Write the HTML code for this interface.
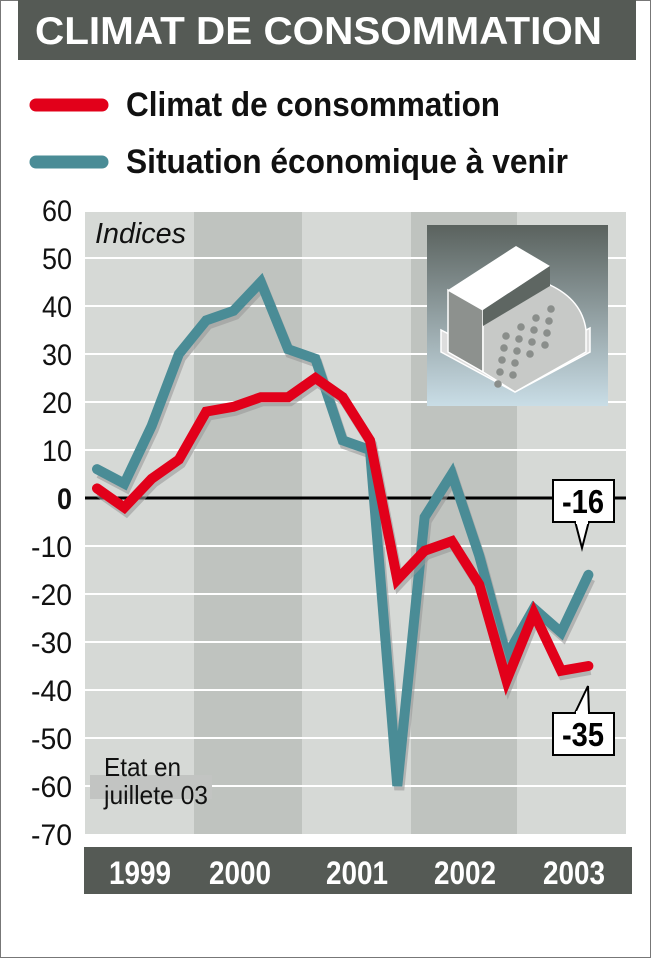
<!DOCTYPE html>
<html><head><meta charset="utf-8"><style>
body{margin:0;width:651px;height:958px;overflow:hidden;background:#fff;font-family:"Liberation Sans",sans-serif}
</style></head><body>
<svg width="651" height="958" viewBox="0 0 651 958">
<defs>
<linearGradient id="reg" x1="0" y1="0" x2="0" y2="1"><stop offset="0" stop-color="#5a625e"/><stop offset="1" stop-color="#c9dde6"/></linearGradient>
</defs>
<rect x="0.5" y="0.5" width="650" height="957" fill="#fff" stroke="#777"/>
<rect x="18" y="0" width="618" height="60" fill="#555a55"/>
<text x="35" y="44" textLength="567" lengthAdjust="spacingAndGlyphs" font-weight="bold" font-size="39" fill="#fff">CLIMAT DE CONSOMMATION</text>
<line x1="36" y1="105" x2="102" y2="105" stroke="#e2001a" stroke-width="13" stroke-linecap="round"/>
<text x="126" y="116" textLength="374" lengthAdjust="spacingAndGlyphs" font-weight="bold" font-size="34" fill="#111">Climat de consommation</text>
<line x1="36" y1="162" x2="102" y2="162" stroke="#4a8c96" stroke-width="13" stroke-linecap="round"/>
<text x="126" y="173" textLength="442" lengthAdjust="spacingAndGlyphs" font-weight="bold" font-size="34" fill="#111">Situation économique à venir</text>
<g id="plot"></g>
<rect x="84" y="847" width="548" height="47" fill="#555a55"/>
<g id="years"></g>
</svg>
<script>
const years=["1999","2000","2001","2002","2003"];
const bandEdges=[85,194,302,411,517,626];
const yearLabelX=[140,240,357,465,574];
const yTicks=[60,50,40,30,20,10,0,-10,-20,-30,-40,-50,-60,-70];
const climat=[2,-2,4,8,18,19,21,21,25,21,12,-17,-11,-9,-18,-38,-24,-36,-35];
const situation=[6,3,15,30,37,39,45,31,29,12,10,-60,-4,5,-12,-33,-23,-28,-16];
const NS="http://www.w3.org/2000/svg";
const y=v=>498-(v)*4.8;
const x=i=>97+i*27.3;
const plot=document.getElementById('plot');
function mk(tag,attrs,parent){const e=document.createElementNS(NS,tag);for(const k in attrs)e.setAttribute(k,attrs[k]);(parent||plot).appendChild(e);return e;}
function tlen(s,d,m){let w=0;for(const ch of String(s))w+=(ch==='-'?m:d);return w;}
for(let i=0;i<5;i++){
 const r=mk('rect',{x:bandEdges[i],y:y(60)+2,width:bandEdges[i+1]-bandEdges[i],height:y(-70)-y(60)-2,fill:i%2?'#bfc3bf':'#d6d9d6'});
 
 
}
yTicks.forEach(v=>{
 if(v!==60&&v!==-70&&v!==0){const l=mk('line',{x1:85,x2:626,y1:y(v),y2:y(v),stroke:'#fff','stroke-width':2});
 
 }
 const t=mk('text',{x:72,y:y(v)+11,'text-anchor':'end','font-size':30,fill:'#111','font-weight':v===0?'bold':'normal',textLength:tlen(v,15,11),lengthAdjust:'spacingAndGlyphs'});
 t.textContent=v;
 
 
});
const z=mk('line',{x1:85,x2:626,y1:y(0),y2:y(0),stroke:'#000','stroke-width':3});


const it=mk('text',{x:95,y:243,'font-size':29,'font-style':'italic',fill:'#111',textLength:91,lengthAdjust:'spacingAndGlyphs'});it.textContent='Indices';


// cash register
const g=mk('g',{});


mk('rect',{x:427,y:225,width:181,height:181,fill:'url(#reg)'},g);
mk('polygon',{points:'441,352 515,392 590,352 590,328 515,368 441,330',fill:'#ddd',stroke:'#fff','stroke-width':1.5},g);
mk('polygon',{points:'448,290 483,310 483,372 448,352',fill:'#8d918e',stroke:'#fff','stroke-width':1.5},g);
mk('path',{d:'M483,325 L550,285 Q582,300 586,330 L586,352 L515,392 L483,372 Z',fill:'#c7c9c7',stroke:'#fff','stroke-width':1.5},g);
mk('polygon',{points:'448,290 516,246 550,266 483,310',fill:'#fff'},g);
mk('polygon',{points:'483,310 550,266 550,286 483,326',fill:'#5e6662'},g);
for(let r=0;r<5;r++)for(let c=0;c<4;c++)if(r+c<7&&!(r===4&&c>1))mk('circle',{cx:506+c*15-r*2,cy:336-c*9+r*12,r:3.8,fill:'#8a8e8b'},g);
function series(data,color,name){
 const s=mk('polyline',{points:data.map((v,i)=>(x(i)+2)+','+(y(v)+4)).join(' '),fill:'none',stroke:'#999','stroke-width':10,'opacity':0.6});
 
 
 const p=mk('polyline',{points:data.map((v,i)=>x(i)+','+y(v)).join(' '),fill:'none',stroke:color,'stroke-width':10,'stroke-linecap':'round'});
 
 
}
series(situation,'#4a8c96','situation');
series(climat,'#e2001a','climat');
function callout(val,bx,by,tip){
 const c=mk('g',{});
 
 
 mk('polygon',{points:`${bx+22},${tip[2]} ${tip[0]},${tip[1]} ${bx+36},${tip[2]}`,fill:'#fff',stroke:'#000','stroke-width':2},c);
 mk('rect',{x:bx,y:by,width:61,height:42,fill:'#fff',stroke:'#000','stroke-width':2},c);
 mk('rect',{x:bx+23,y:tip[2]-2,width:12,height:5,fill:'#fff'},c);
 const t=mk('text',{x:bx+30,y:by+33,'text-anchor':'middle','font-size':33,'font-weight':'bold',fill:'#000',textLength:42,lengthAdjust:'spacingAndGlyphs'},c);t.textContent=val;
}
callout(situation[situation.length-1],553,480,[582,548,521]);
callout(climat[climat.length-1],553,713,[588,686,713]);
const b=mk('rect',{x:90,y:775,width:122,height:24,fill:'#c2c4c2'});


const n1=mk('text',{x:104,y:776,'font-size':26,fill:'#111',textLength:77,lengthAdjust:'spacingAndGlyphs'});n1.textContent='Etat en';


const n2=mk('text',{x:104,y:804,'font-size':26,fill:'#111',textLength:104,lengthAdjust:'spacingAndGlyphs'});n2.textContent='juillete 03';


const yg=document.getElementById('years');
years.forEach((yr,i)=>{
 const t=mk('text',{x:yearLabelX[i],y:884,'text-anchor':'middle','font-size':32,'font-weight':'bold',fill:'#fff',textLength:62,lengthAdjust:'spacingAndGlyphs'},yg);
 t.textContent=yr;
 
 
});
</script>
</body></html>
